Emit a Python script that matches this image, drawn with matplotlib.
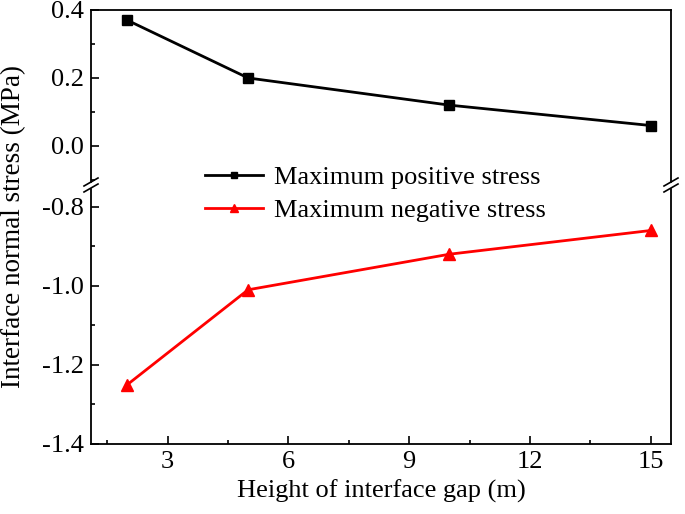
import numpy as np
import matplotlib.pyplot as plt
from matplotlib.ticker import MultipleLocator

plt.rcParams['font.family'] = ['Liberation Serif', 'DejaVu Serif']
plt.rcParams['font.size'] = 19

gap = [2, 5, 10, 15]
pos_stress = [0.37, 0.20, 0.12, 0.06]
neg_stress = [-1.25, -1.01, -0.92, -0.86]

W, H = 685, 514
fig = plt.figure(figsize=(W / 100, H / 100), dpi=100)
left, right = 91 / W, 671 / W
top, brk, bot = 1 - 10 / H, 1 - 185 / H, 1 - 444 / H
ax1 = fig.add_axes([left, brk, right - left, top - brk])
ax2 = fig.add_axes([left, bot, right - left, brk - bot])

l1, = ax1.plot(gap, pos_stress, color='black', lw=2, marker='s', ms=7,
               label='Maximum positive stress')
l2, = ax2.plot(gap, neg_stress, color='red', lw=2, marker='^', ms=9,
               label='Maximum negative stress')

ax1.set_ylim(-0.115, 0.4)
ax2.set_ylim(-1.4, -0.745)
for ax in (ax1, ax2):
    ax.set_xlim(1.1, 15.5)
    ax.xaxis.set_major_locator(MultipleLocator(3))
    ax.xaxis.set_minor_locator(MultipleLocator(1.5))
    ax.yaxis.set_major_locator(MultipleLocator(0.2))
    ax.yaxis.set_minor_locator(MultipleLocator(0.1))
    ax.tick_params(which='both', direction='in', width=1.2)
    ax.tick_params(which='major', length=6, labelsize=19, pad=5)
    ax.tick_params(which='minor', length=3)
    for s in ax.spines.values():
        s.set_linewidth(1.3)

ax1.spines['bottom'].set_visible(False)
ax2.spines['top'].set_visible(False)
ax1.tick_params(axis='x', which='both', bottom=False, labelbottom=False)
ax1.set_yticks([0.0, 0.2, 0.4])
ax1.set_yticklabels(['0.0', '0.2', '0.4'])
ax2.set_yticks([-1.4, -1.2, -1.0, -0.8])
ax2.set_yticklabels(['-1.4', '-1.2', '-1.0', '-0.8'])

# break marks
d = 7 / W
for xb in (left, right):
    fig.patches.append(plt.Rectangle((xb - 2 / W, brk - 2 / H), 4 / W, 4 / H,
                                     transform=fig.transFigure,
                                     color='white', zorder=3))
    for off in (-3 / H, 3 / H):
        fig.add_artist(plt.Line2D([xb - d, xb + d],
                                  [brk + off - 4 / H, brk + off + 4 / H],
                                  color='black', lw=1.2, zorder=4))

ax2.set_xlabel('Height of interface gap (m)', fontsize=19, labelpad=5)
fig.text(14 / W, (top + bot) / 2, 'Interface normal stress (MPa)',
         rotation=90, va='center', ha='center', fontsize=19.5)

fig.legend(handles=[l1, l2], loc='upper left',
           bbox_to_anchor=(205 / W, 1 - 166 / H), frameon=False,
           fontsize=19, handlelength=2.2, handletextpad=0.4,
           labelspacing=0.35, borderpad=0, borderaxespad=0,
           markerscale=0.65)

plt.savefig('out.png', dpi=100)
